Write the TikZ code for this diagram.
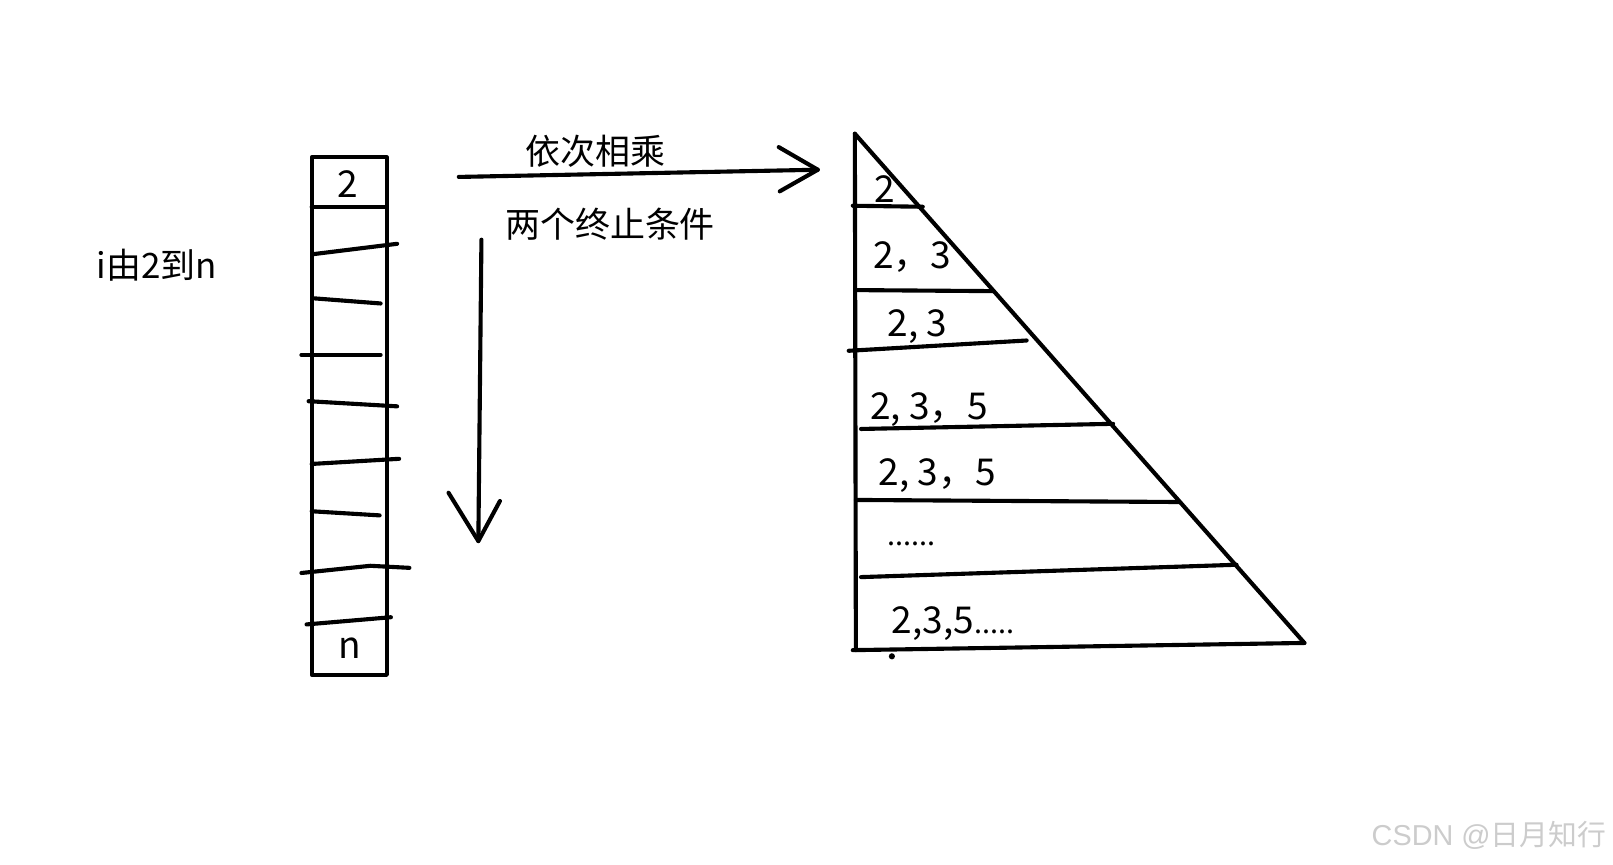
\documentclass[tikz,border=0pt]{standalone}
\usepackage{fontspec}
\setmainfont{Noto Sans CJK SC}
\newfontfamily\wmfont{Liberation Sans}
\begin{document}
\begin{tikzpicture}[x=0.5pt,y=-0.5pt,line width=2pt,line cap=round,line join=round,
  cjk/.style={font=\fontsize{17}{20}\selectfont,inner sep=0pt,anchor=west},
  num/.style={font=\fontsize{18}{20}\selectfont,inner sep=0pt,anchor=west},
  stroke/.style={draw=black,line width=2pt}]
\useasboundingbox[fill=white] (0,0) rectangle (1568,840);
% left column box
\draw[stroke] (303,153) rectangle (376,656);
\draw[stroke] (303,201) -- (376,201);
\node[num,anchor=center] (two) at (338,179) {2};
\node[num,anchor=center] (nn) at (340,630) {n};
% hand-drawn separators
\draw[stroke] (305,247) -- (386,237);
\draw[stroke] (305,290) -- (370,295);
\draw[stroke] (293,345) -- (370,345);
\draw[stroke] (300,390) -- (386,395);
\draw[stroke] (303,451) -- (388,446);
\draw[stroke] (303,497) -- (369,501);
\draw[stroke] (293,557) -- (360,550) -- (398,552);
\draw[stroke] (298,607) -- (380,600);
% labels
\node[cjk] (range) at (92,258) {i由2到n};
\node[cjk] (mul) at (509,147) {依次相乘};
\node[cjk] (stop) at (489,218) {两个终止条件};
% horizontal arrow
\coordinate (hs) at (446,172);
\coordinate (ht) at (795,165);
\coordinate (ha1) at (757,143);
\coordinate (ha2) at (758,186);
\draw[stroke] (hs) -- (ht);
\draw[stroke] (ha1) -- (ht) -- (ha2);
% vertical arrow
\coordinate (vs) at (468,233);
\coordinate (vt) at (465,526);
\coordinate (va1) at (436,479);
\coordinate (va2) at (486,487);
\draw[stroke] (vs) -- (vt);
\draw[stroke] (va1) -- (vt) -- (va2);
% triangle
\coordinate (tA) at (831,130);
\coordinate (tB) at (832,632);
\coordinate (tC) at (1268,625);
\draw[stroke] (tA) -- (tB);
\draw[stroke] (tA) -- (tC);
\draw[stroke] (829,632) -- (tC);
\fill (867,638) circle (3);
% rows
\draw[stroke] (829,200) -- (897,201);
\draw[stroke] (832,282) -- (965,283);
\draw[stroke] (825,341) -- (998,331);
\draw[stroke] (837,417) -- (1082,412);
\draw[stroke] (832,486) -- (1146,488);
\draw[stroke] (837,561) -- (1202,549);
\node[num] (r1) at (848,184) {2};
\node[num] (r2) at (847,250) {2，3};
\node[num] (r3) at (861,317) {2, 3};
\node[num] (r4) at (844,398) {2, 3，5};
\node[num] (r5) at (852,462) {2, 3，5};
\node[num,font=\fontsize{14}{16}\selectfont,anchor=base west] (r6) at (861,530) {......};
\node[num] (r7) at (865,606) {2,3,5\fontsize{14}{16}\selectfont.....};
% watermark
\node[font=\wmfont\fontsize{14}{16}\selectfont,text=black!20,inner sep=0pt,anchor=east] (wm) at (1563,812) {CSDN @\fontspec{Noto Sans CJK SC}日月知行};
\end{tikzpicture}
\end{document}
